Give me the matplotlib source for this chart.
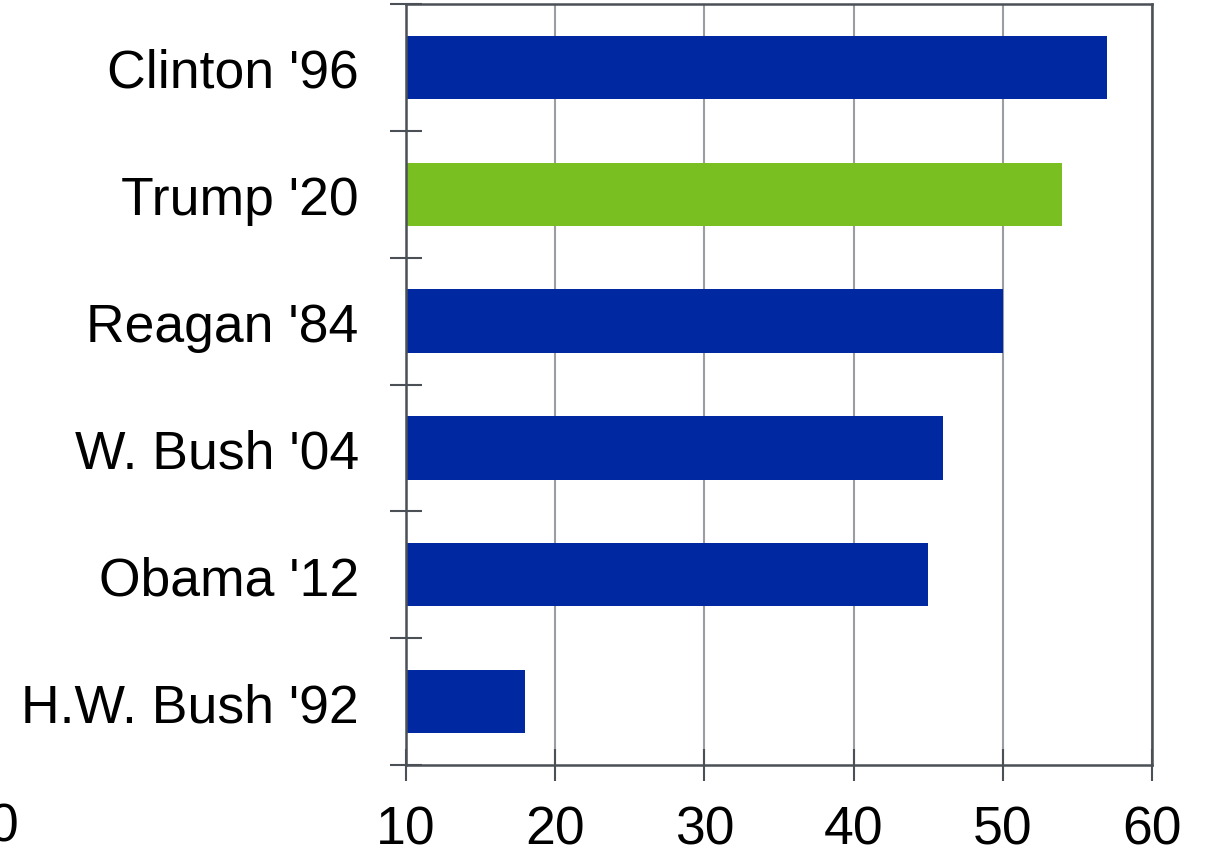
import numpy as np
import matplotlib
matplotlib.use("Agg")
import matplotlib.pyplot as plt

plt.rcParams['font.family'] = ['Liberation Sans', 'DejaVu Sans']

names = ["H.W. Bush '92", "Obama '12", "W. Bush '04", "Reagan '84", "Trump '20", "Clinton '96"]
values = [18, 45, 46, 50, 54, 57]
colors = ['#0029a1', '#0029a1', '#0029a1', '#0029a1', '#7abf21', '#0029a1']
xticks = [10, 20, 30, 40, 50, 60]

spine_col = '#4b5056'

fig = plt.figure(figsize=(12.12, 8.53), dpi=100)
ax = fig.add_axes([406 / 1212, 1 - 766 / 853, (1152 - 406) / 1212, (766 - 5) / 853])

y = np.arange(len(names))
ax.barh(y, values, height=0.5, color=colors, zorder=2)

ax.set_xlim(10, 60)
ax.set_ylim(-0.5, len(names) - 0.5)

ax.set_xticks(xticks)
ax.set_xticklabels([str(t) for t in xticks], fontsize=38.5)
ax.set_yticks(y)
ax.set_yticklabels(names, fontsize=38.5)
ax.set_yticks(np.arange(len(names) + 1) - 0.5, minor=True)

ax.tick_params(axis='y', which='major', length=0, pad=34)
ax.tick_params(axis='y', which='minor', length=23, width=1.5, direction='inout', color=spine_col)
ax.tick_params(axis='x', which='major', length=23, width=1.5, direction='inout', color=spine_col, pad=17)

ax.grid(axis='x', color='#9a9ea3', linewidth=1.5, zorder=1)
for s in ax.spines.values():
    s.set_color(spine_col)
    s.set_linewidth(1.8)
    s.set_zorder(3)

fig.text(4 / 1212, 1 - 828 / 853, "0", fontsize=38.5, ha='center', va='center')

fig.savefig("out.png", dpi=100)
